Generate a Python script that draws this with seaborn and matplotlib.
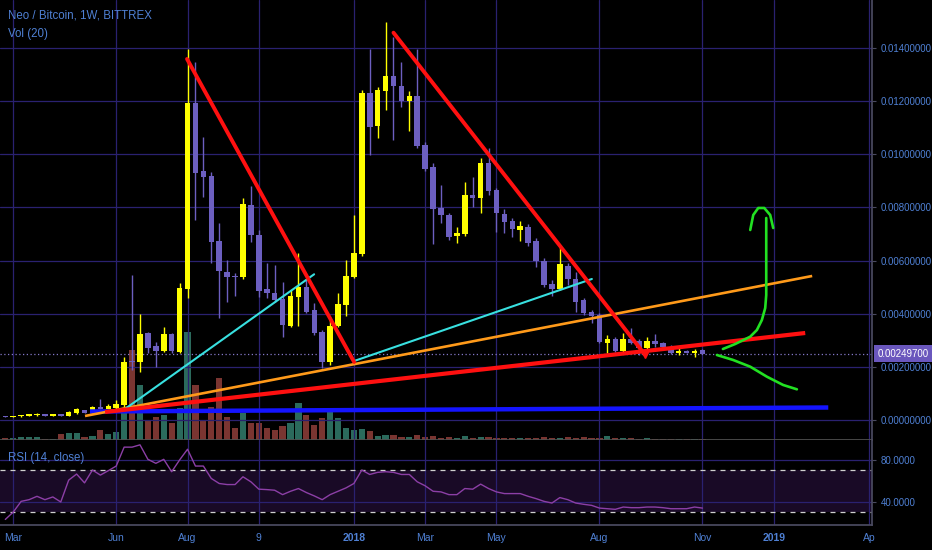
import numpy as np
import pandas as pd
import matplotlib
matplotlib.use("Agg")
import matplotlib.pyplot as plt
import matplotlib.transforms as mtrans
import seaborn as sns

# ---------------- data (weekly NEO/BTC, Bittrex) ----------------
weeks = pd.date_range("2017-02-27", periods=89, freq="7D")

open_ = [0.000139, 0.000113, 0.000132, 0.000158, 0.000177, 0.000215, 0.000169, 0.000218, 0.000158, 0.000252,
         0.000365, 0.000275, 0.000501, 0.000414, 0.000440, 0.000565, 0.002194, 0.002194, 0.003263, 0.002785,
         0.002597, 0.003237, 0.002571, 0.004919, 0.011942, 0.009383, 0.009194, 0.006748, 0.005581, 0.005420,
         0.005371, 0.008092, 0.006963, 0.004919, 0.004791, 0.004543, 0.003549, 0.004618, 0.004994, 0.004140,
         0.003301, 0.002194, 0.003538, 0.004328, 0.005393, 0.006236, 0.012318, 0.011065, 0.012394, 0.012947,
         0.012570, 0.012017, 0.012194, 0.010350, 0.009533, 0.007967, 0.007715, 0.006925, 0.006989, 0.008468,
         0.008344, 0.009661, 0.008656, 0.007753, 0.007501, 0.007151, 0.007275, 0.006748, 0.005984, 0.005107,
         0.004930, 0.005807, 0.005295, 0.004516, 0.004076, 0.003952, 0.002909, 0.003037, 0.002597, 0.003037,
         0.002985, 0.002721, 0.002973, 0.002887, 0.002759, 0.002533, 0.002608, 0.002510, 0.002635]
high = [0.000162, 0.000169, 0.000196, 0.000215, 0.000245, 0.000233, 0.000237, 0.000237, 0.000320, 0.000463,
        0.000384, 0.000508, 0.000790, 0.000602, 0.000753, 0.002382, 0.005457, 0.003989, 0.003323, 0.002947,
        0.003500, 0.003274, 0.005167, 0.013952, 0.013485, 0.010651, 0.009345, 0.007426, 0.006022, 0.005532,
        0.008355, 0.008807, 0.007151, 0.005909, 0.005834, 0.005205, 0.004893, 0.006296, 0.005269, 0.004392,
        0.003387, 0.003888, 0.004768, 0.006022, 0.007715, 0.012420, 0.013952, 0.012544, 0.014990, 0.014426,
        0.013485, 0.012394, 0.013952, 0.010474, 0.009661, 0.008844, 0.007791, 0.007252, 0.008969, 0.009157,
        0.009849, 0.010226, 0.008732, 0.007930, 0.007591, 0.007501, 0.007377, 0.006838, 0.006097, 0.005269,
        0.006549, 0.005909, 0.005581, 0.004592, 0.004140, 0.004027, 0.003199, 0.003124, 0.003286, 0.003451,
        0.003049, 0.003113, 0.003225, 0.002924, 0.002823, 0.002698, 0.002635, 0.002661, 0.002672]
low = [0.000094, 0.000102, 0.000113, 0.000143, 0.000162, 0.000151, 0.000151, 0.000151, 0.000143, 0.000233,
       0.000256, 0.000263, 0.000406, 0.000395, 0.000422, 0.000489, 0.001882, 0.001818, 0.002510, 0.002006,
       0.002559, 0.002522, 0.002522, 0.004592, 0.007527, 0.008393, 0.005909, 0.003839, 0.004452, 0.004667,
       0.005307, 0.006710, 0.004641, 0.004592, 0.004452, 0.003135, 0.003500, 0.003549, 0.004016, 0.003199,
       0.001957, 0.002070, 0.003500, 0.003914, 0.005344, 0.006172, 0.009974, 0.010602, 0.011667, 0.010538,
       0.011791, 0.010888, 0.010226, 0.009371, 0.006624, 0.007426, 0.006774, 0.006673, 0.006925, 0.008016,
       0.007802, 0.008468, 0.007087, 0.007027, 0.006876, 0.006748, 0.006549, 0.005770, 0.005006, 0.004667,
       0.004893, 0.005081, 0.004076, 0.003952, 0.003662, 0.002898, 0.002510, 0.002559, 0.002559, 0.002860,
       0.002446, 0.002571, 0.002759, 0.002729, 0.002484, 0.002446, 0.002503, 0.002360, 0.002484]
close = [0.000113, 0.000151, 0.000177, 0.000196, 0.000226, 0.000169, 0.000218, 0.000169, 0.000301, 0.000403,
         0.000275, 0.000489, 0.000425, 0.000538, 0.000602, 0.002194, 0.002164, 0.003225, 0.002698, 0.002597,
         0.003225, 0.002597, 0.004968, 0.011942, 0.009285, 0.009157, 0.006710, 0.005608, 0.005371, 0.005371,
         0.008118, 0.006963, 0.004855, 0.004768, 0.004516, 0.003575, 0.004667, 0.004994, 0.004076, 0.003263,
         0.002194, 0.003549, 0.004354, 0.005431, 0.006274, 0.012318, 0.011016, 0.012420, 0.012947, 0.012582,
         0.012017, 0.012194, 0.010312, 0.009435, 0.007930, 0.007715, 0.006899, 0.007027, 0.008468, 0.008344,
         0.009661, 0.008630, 0.007779, 0.007441, 0.007177, 0.007313, 0.006650, 0.005984, 0.005081, 0.004930,
         0.005860, 0.005295, 0.004452, 0.004038, 0.003914, 0.002947, 0.003037, 0.002597, 0.003037, 0.002909,
         0.002698, 0.002973, 0.002849, 0.002759, 0.002510, 0.002608, 0.002533, 0.002608, 0.002497]
volume = [2, 2, 3, 3, 3, 1, 1, 6, 7, 7, 3, 4, 10, 6, 8,
          28, 90, 55, 20, 23, 25, 17, 32, 108, 55, 20, 33, 62, 23, 12,
          27, 17, 17, 12, 10, 14, 17, 37, 25, 15, 22, 32, 22, 12, 10,
          11, 9, 4, 5, 5, 3, 3, 5, 3, 4, 2, 3, 2, 4, 2, 3, 3, 2, 2, 2, 2, 2,
          2, 3, 2, 2, 3, 2, 3, 2, 2, 4, 2, 2, 2, 1, 2, 1, 1, 1, 1, 1, 1, 1]
rsi = [23.4, 30.4, 40.6, 42.2, 45.4, 42.2, 44.8, 40.0, 60.8, 66.6,
       58.2, 70.4, 65.6, 69.8, 74.2, 92.2, 92.2, 94.4, 80.6, 76.8,
       80.6, 68.8, 80.0, 90.2, 74.2, 74.2, 62.4, 57.6, 56.6, 56.6,
       64.0, 59.2, 52.2, 51.8, 51.2, 47.0, 50.2, 52.8, 49.0, 45.8,
       42.2, 47.0, 50.2, 53.4, 57.6, 70.4, 66.2, 68.2, 68.8, 68.2,
       66.2, 66.2, 59.2, 55.4, 50.2, 49.6, 47.0, 47.0, 52.8, 52.2,
       57.0, 52.8, 49.6, 48.0, 48.0, 48.0, 45.4, 43.2, 40.6, 39.0,
       44.2, 42.2, 39.0, 37.8, 36.8, 34.2, 33.6, 33.0, 35.2, 34.6,
       34.6, 35.2, 35.2, 34.6, 33.6, 33.6, 33.6, 35.2, 34.2]
last_price = 0.002497

time_tick_dates = ["2017-03-06", "2017-06-05", "2017-08-07", "2017-10-09", "2018-01-01", "2018-03-05",
                   "2018-05-07", "2018-08-06", "2018-11-05", "2019-01-07", "2019-04-01"]
time_tick_labels = ["Mar", "Jun", "Aug", "9", "2018", "Mar", "May", "Aug", "Nov", "2019", "Ap"]
price_ticks = [0.0, 0.002, 0.004, 0.006, 0.008, 0.010, 0.012, 0.014]
rsi_ticks = [40, 80]

# user-drawn trend lines: (bar index, price) points
red_top1 = ([22.94, 44.03], [0.013587, 0.002183])
red_top2 = ([49.0, 80.77], [0.014577, 0.002446])
red_support = ([12.59, 100.97], [0.000301, 0.003274])
orange_line = ([10.06, 101.85], [0.000151, 0.005420])
cyan_1 = ([15.33, 38.98], [0.000463, 0.005484])
cyan_2 = ([44.15, 74.04], [0.002232, 0.005307])
blue_line = ([10.69, 103.88], [0.000320, 0.000470])
green_up = ([90.58, 92.13, 94.03, 94.87, 95.50, 95.92, 96.05, 96.05, 96.05, 96.05],
            [0.002672, 0.002860, 0.003135, 0.003387, 0.003764, 0.004215, 0.004705, 0.005645, 0.006586, 0.007602])
green_arc = ([94.03, 94.41, 95.04, 95.80, 96.55, 96.93],
             [0.007151, 0.007715, 0.007979, 0.007979, 0.007715, 0.007226])
green_down = ([89.82, 91.88, 94.03, 96.13, 98.19, 99.92],
              [0.002446, 0.002258, 0.002006, 0.001630, 0.001317, 0.001155])

# ---------------- style ----------------
BG = "#000000"
GRID = "#2a2170"
LABEL = "#4f80d4"
YELLOW = "#ffff00"
PURPLE = "#6c5fc0"
VOL_UP = "#2b6a5c"
VOL_DN = "#7a3531"

sns.set_theme(style="dark", rc={"axes.facecolor": BG, "figure.facecolor": BG,
                                "grid.color": GRID, "grid.linewidth": 0.9,
                                "axes.edgecolor": "#4a4a60"})
plt.rcParams["font.family"] = ["Liberation Sans", "DejaVu Sans"]

W, H = 932, 550
fig = plt.figure(figsize=(W / 100, H / 100), dpi=100)
main_rect = [0, 110 / H, 872 / W, 440 / H]
rsi_rect = [0, 25 / H, 872 / W, 85 / H]

axv = fig.add_axes(main_rect)
ax = fig.add_axes(main_rect)
axr = fig.add_axes(rsi_rect)
ax.patch.set_visible(False)

x = np.arange(len(open_))
o = np.array(open_); c = np.array(close)
up = c >= o
xlim = (-0.67, 109.4)
tick_idx = [(pd.Timestamp(d) - weeks[0]).days / 7 for d in time_tick_dates]

# volume (bottom layer)
axv.bar(x, volume, width=0.78, color=np.where(up, VOL_UP, VOL_DN), lw=0)
axv.set_xlim(*xlim)
axv.set_ylim(0, 440)
axv.set_xticks([]); axv.set_yticks([])
for s in axv.spines.values():
    s.set_visible(False)

# price panel
ax.set_xlim(*xlim)
ax.set_ylim(-0.000753, 0.015807)
ax.set_xticks(tick_idx)
ax.set_yticks(price_ticks)
ax.grid(True, color=GRID, lw=0.9)
ax.set_axisbelow(True)
ax.tick_params(axis="x", length=0, labelbottom=False)
ax.yaxis.tick_right()
ax.tick_params(axis="y", right=True, length=3, width=0.8, color="#4a4a60", pad=3,
               labelsize=7, labelcolor=LABEL)
ax.set_yticklabels([f"{v:.8f}" for v in price_ticks])
for side in ["top", "left"]:
    ax.spines[side].set_visible(False)
ax.spines["right"].set_color("#4a4a60")
ax.spines["bottom"].set_color("#505050")

colors = np.where(up, YELLOW, PURPLE)
ax.vlines(x, low, high, colors=colors, lw=1, zorder=3)
body_h = np.maximum(np.abs(c - o), 0.00005)
ax.bar(x, body_h, bottom=np.minimum(o, c), width=0.7, color=colors, lw=0, zorder=4)

ax.axhline(last_price, color="#8478c8", lw=0.9, ls=(0, (1, 2)), zorder=2)

ax.plot(*blue_line, color="#1414ff", lw=3.2, solid_capstyle="butt", zorder=5)
ax.plot(*orange_line, color="#ff9a1a", lw=1.9, solid_capstyle="butt", zorder=5)
ax.plot(*red_support, color="#ff1010", lw=3.0, solid_capstyle="butt", zorder=6)
ax.plot(*cyan_1, color="#38e0e0", lw=1.5, zorder=5)
ax.plot(*cyan_2, color="#38e0e0", lw=1.5, zorder=5)
ax.plot(*red_top1, color="#ff1010", lw=2.8, solid_capstyle="round", zorder=6)
ax.plot(*red_top2, color="#ff1010", lw=2.8, solid_capstyle="round", zorder=6)
ax.plot([red_top2[0][1]], [red_top2[1][1]], marker="v", ms=5, color="#ff1010", zorder=6)
ax.plot(*green_up, color="#22e022", lw=1.9, solid_capstyle="round", zorder=6)
ax.plot(*green_arc, color="#22e022", lw=1.9, solid_capstyle="round", zorder=6)
ax.plot(*green_down, color="#22e022", lw=1.9, solid_capstyle="round", zorder=6)

trans = mtrans.blended_transform_factory(ax.transAxes, ax.transData)
ax.text(1.006, last_price, f"{last_price:.8f}", transform=trans, va="center", ha="left",
        fontsize=7, color="white",
        bbox=dict(boxstyle="square,pad=0.35", fc="#6a57bd", ec="none"), zorder=10)

# RSI panel
axr.set_xlim(*xlim)
axr.set_ylim(18.1, 99)
axr.fill_between(list(xlim), 30, 70, color="#190a26", lw=0, zorder=0)
axr.set_xticks(tick_idx)
axr.set_yticks(rsi_ticks)
axr.grid(True, color=GRID, lw=0.9)
axr.set_axisbelow(True)
axr.axhline(70, color="#d0d0d0", lw=0.9, ls=(0, (4, 4)), zorder=2)
axr.axhline(30, color="#d0d0d0", lw=0.9, ls=(0, (4, 4)), zorder=2)
sns.lineplot(x=x, y=rsi, ax=axr, color="#8c3fa6", lw=1.0, legend=False, zorder=3)
axr.set_xlabel(""); axr.set_ylabel("")
axr.yaxis.tick_right()
axr.tick_params(axis="y", right=True, length=3, width=0.8, color="#4a4a60", pad=3,
                labelsize=7, labelcolor=LABEL)
axr.set_yticklabels([f"{v:.4f}" for v in rsi_ticks])
axr.tick_params(axis="x", length=0, pad=6, labelsize=7.5, labelcolor=LABEL)
axr.set_xticklabels(time_tick_labels)
for lbl in axr.get_xticklabels():
    if lbl.get_text() in ("2018", "2019"):
        lbl.set_fontweight("bold")
for side in ["top", "left"]:
    axr.spines[side].set_visible(False)
axr.spines["right"].set_color("#4a4a60")
axr.spines["bottom"].set_color("#4a4a60")

# legends / titles as text
fig.text(8 / W, 1 - 16 / H, "Neo / Bitcoin, 1W, BITTREX", color=LABEL, fontsize=8.3, va="center", ha="left")
fig.text(8 / W, 1 - 34 / H, "Vol (20)", color=LABEL, fontsize=8.3, va="center", ha="left")
fig.text(8 / W, 1 - 458 / H, "RSI (14, close)", color=LABEL, fontsize=8.3, va="center", ha="left")

fig.savefig("out.png", dpi=100, facecolor=BG)
